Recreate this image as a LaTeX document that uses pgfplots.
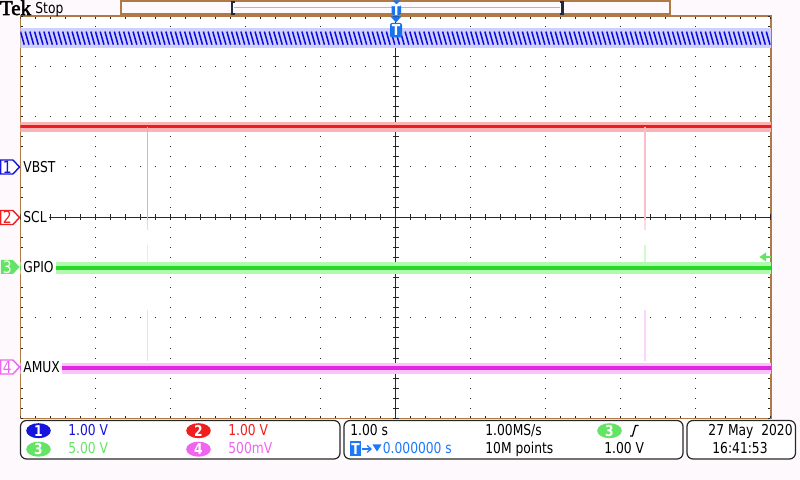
\documentclass[border=0pt]{standalone}
\usepackage{pgfplots}
\pgfplotsset{compat=1.18}
\usetikzlibrary{arrows.meta}
\usepackage{fontspec}
\setmainfont{DejaVu Sans}
\newfontfamily\tekfont[FakeStretch=0.82]{DejaVu Sans}
\newfontfamily\logofont[FakeBold=2.5]{Liberation Serif}
\newcommand\tf{\tekfont\fontsize{7.5}{9}\selectfont}
\definecolor{bgc}{RGB}{253,249,253}
\definecolor{tekbrown}{RGB}{176,122,70}
\definecolor{chone}{RGB}{10,10,225}
\definecolor{chonehalo}{RGB}{208,208,255}
\definecolor{chtwo}{RGB}{235,30,30}
\definecolor{chtwohalo}{RGB}{250,180,180}
\definecolor{chtwospike}{RGB}{250,165,175}
\definecolor{chthree}{RGB}{40,215,40}
\definecolor{chthreehalo}{RGB}{175,250,175}
\definecolor{chthreetxt}{RGB}{100,228,100}
\definecolor{chfour}{RGB}{225,40,225}
\definecolor{chfourhalo}{RGB}{250,195,250}
\definecolor{chfourtxt}{RGB}{240,100,240}
\definecolor{trigblue}{RGB}{25,115,240}
\definecolor{dkline}{RGB}{40,40,40}
\definecolor{navy}{RGB}{35,40,60}
\definecolor{barline}{RGB}{120,225,120}
\definecolor{txtblue}{RGB}{20,20,220}
\definecolor{txtltblue}{RGB}{30,120,250}
\definecolor{txtred}{RGB}{240,30,30}
\begin{document}
\begin{tikzpicture}
\begin{scope}[x=0.5pt,y=-0.5pt]
  \fill[bgc] (0,0) rectangle (800,480);
\end{scope}
\begin{axis}[
  at={(10.25pt,-8pt)}, anchor=north west,
  scale only axis, width=375.25pt, height=201.25pt,
  xmin=-5, xmax=5, ymin=-4, ymax=4,
  axis background/.style={fill=white},
  axis line style={draw=tekbrown, line width=0.8pt},
  xtick={-4,-3,-2,-1,1,2,3,4}, ytick={-3,-2,-1,1,2,3},
  xticklabels={}, yticklabels={},
  major tick length=0pt, tick style={draw=none},
  xmajorgrids, ymajorgrids,
  major x grid style={black!85, line width=0.5pt, dash pattern=on 0.5pt off 4.53125pt, dash phase=0.25pt},
  major y grid style={black!85, line width=0.5pt, dash pattern=on 0.5pt off 7.005pt, dash phase=0.25pt},
  clip=true,
]
% edge ticks
\draw[black!85, line width=1pt, dash pattern=on 0.5pt off 7.005pt, dash phase=0.25pt] (axis cs:-5,3.97) -- (axis cs:5,3.97);
\draw[black!85, line width=1pt, dash pattern=on 0.5pt off 7.005pt, dash phase=0.25pt] (axis cs:-5,-3.97) -- (axis cs:5,-3.97);
\draw[black!85, line width=1pt, dash pattern=on 0.5pt off 4.53125pt, dash phase=0.25pt] (axis cs:-4.98,-4) -- (axis cs:-4.98,4);
\draw[black!85, line width=1pt, dash pattern=on 0.5pt off 4.53125pt, dash phase=0.25pt] (axis cs:4.98,-4) -- (axis cs:4.98,4);
% crosshair
\draw[dkline, line width=0.6pt] (axis cs:-5,0) -- (axis cs:5,0);
\draw[dkline, line width=0.6pt] (axis cs:0,-4) -- (axis cs:0,4);
\draw[dkline, line width=3pt, dash pattern=on 0.5pt off 7.005pt, dash phase=0.25pt] (axis cs:-5,0) -- (axis cs:5,0);
\draw[dkline, line width=3pt, dash pattern=on 0.5pt off 4.53125pt, dash phase=0.25pt] (axis cs:0,-4) -- (axis cs:0,4);
% CH1 VBST ripple
\addplot[chonehalo, line width=10pt] coordinates {(-5,3.56) (5,3.56)};
\addplot[chone, line width=0.75pt, quiver={u=0.05, v=-0.26}] coordinates {
(-5,3.69) (-4.9375,3.69) (-4.875,3.69) (-4.8125,3.69) (-4.75,3.69) (-4.6875,3.69) (-4.625,3.69) (-4.5625,3.69) (-4.5,3.69) (-4.4375,3.69) (-4.375,3.69) (-4.3125,3.69) (-4.25,3.69) (-4.1875,3.69) (-4.125,3.69) (-4.0625,3.69)
(-4,3.69) (-3.9375,3.69) (-3.875,3.69) (-3.8125,3.69) (-3.75,3.69) (-3.6875,3.69) (-3.625,3.69) (-3.5625,3.69) (-3.5,3.69) (-3.4375,3.69) (-3.375,3.69) (-3.3125,3.69) (-3.25,3.69) (-3.1875,3.69) (-3.125,3.69) (-3.0625,3.69)
(-3,3.69) (-2.9375,3.69) (-2.875,3.69) (-2.8125,3.69) (-2.75,3.69) (-2.6875,3.69) (-2.625,3.69) (-2.5625,3.69) (-2.5,3.69) (-2.4375,3.69) (-2.375,3.69) (-2.3125,3.69) (-2.25,3.69) (-2.1875,3.69) (-2.125,3.69) (-2.0625,3.69)
(-2,3.69) (-1.9375,3.69) (-1.875,3.69) (-1.8125,3.69) (-1.75,3.69) (-1.6875,3.69) (-1.625,3.69) (-1.5625,3.69) (-1.5,3.69) (-1.4375,3.69) (-1.375,3.69) (-1.3125,3.69) (-1.25,3.69) (-1.1875,3.69) (-1.125,3.69) (-1.0625,3.69)
(-1,3.69) (-0.9375,3.69) (-0.875,3.69) (-0.8125,3.69) (-0.75,3.69) (-0.6875,3.69) (-0.625,3.69) (-0.5625,3.69) (-0.5,3.69) (-0.4375,3.69) (-0.375,3.69) (-0.3125,3.69) (-0.25,3.69) (-0.1875,3.69) (-0.125,3.69) (-0.0625,3.69)
(0,3.69) (0.0625,3.69) (0.125,3.69) (0.1875,3.69) (0.25,3.69) (0.3125,3.69) (0.375,3.69) (0.4375,3.69) (0.5,3.69) (0.5625,3.69) (0.625,3.69) (0.6875,3.69) (0.75,3.69) (0.8125,3.69) (0.875,3.69) (0.9375,3.69)
(1,3.69) (1.0625,3.69) (1.125,3.69) (1.1875,3.69) (1.25,3.69) (1.3125,3.69) (1.375,3.69) (1.4375,3.69) (1.5,3.69) (1.5625,3.69) (1.625,3.69) (1.6875,3.69) (1.75,3.69) (1.8125,3.69) (1.875,3.69) (1.9375,3.69)
(2,3.69) (2.0625,3.69) (2.125,3.69) (2.1875,3.69) (2.25,3.69) (2.3125,3.69) (2.375,3.69) (2.4375,3.69) (2.5,3.69) (2.5625,3.69) (2.625,3.69) (2.6875,3.69) (2.75,3.69) (2.8125,3.69) (2.875,3.69) (2.9375,3.69)
(3,3.69) (3.0625,3.69) (3.125,3.69) (3.1875,3.69) (3.25,3.69) (3.3125,3.69) (3.375,3.69) (3.4375,3.69) (3.5,3.69) (3.5625,3.69) (3.625,3.69) (3.6875,3.69) (3.75,3.69) (3.8125,3.69) (3.875,3.69) (3.9375,3.69)
(4,3.69) (4.0625,3.69) (4.125,3.69) (4.1875,3.69) (4.25,3.69) (4.3125,3.69) (4.375,3.69) (4.4375,3.69) (4.5,3.69) (4.5625,3.69) (4.625,3.69) (4.6875,3.69) (4.75,3.69) (4.8125,3.69) (4.875,3.69) (4.9375,3.69)
};
% CH2 SCL
\addplot[chtwohalo, line width=5pt] coordinates {(-5,1.80) (5,1.80)};
\addplot[chtwo, line width=1.6pt] coordinates {(-5,1.80) (5,1.80)};
\addplot[chtwospike, line width=0.7pt] coordinates {(-3.31,1.80) (-3.31,-0.05)};
\addplot[chtwospike!50!white, line width=0.7pt] coordinates {(-3.31,-0.05) (-3.31,-0.25)};
\addplot[chtwospike!70!white, line width=0.7pt] coordinates {(3.32,1.80) (3.32,-0.05)};
\addplot[chtwospike!40!white, line width=0.7pt] coordinates {(3.32,-0.05) (3.32,-0.25)};
% CH3 GPIO
\addplot[chthreehalo, line width=6pt] coordinates {(-5,-1.0) (5,-1.0)};
\addplot[chthree, line width=2pt] coordinates {(-5,-1.0) (5,-1.0)};
\addplot[chthreehalo!60!white, line width=0.7pt] coordinates {(-3.31,-0.55) (-3.31,-0.88)};
\addplot[chthreehalo!60!white, line width=0.7pt] coordinates {(3.32,-0.55) (3.32,-0.88)};
% CH4 AMUX
\addplot[chfourhalo, line width=5.5pt] coordinates {(-5,-3.0) (5,-3.0)};
\addplot[chfour, line width=2pt] coordinates {(-5,-3.0) (5,-3.0)};
\addplot[chfourhalo!70!white, line width=0.7pt] coordinates {(-3.31,-1.85) (-3.31,-2.85)};
\addplot[chfourhalo!70!white, line width=0.7pt] coordinates {(3.32,-1.85) (3.32,-2.85)};
\end{axis}
\begin{scope}[x=0.5pt,y=-0.5pt, tk/.style={font=\tf, inner sep=0pt, anchor=base west}]
  % header
  \node[font=\logofont\fontsize{10.5}{11}\selectfont, inner sep=0pt, anchor=base west] at (-0.5,15) {Tek};
  \node[tk] at (35,13.5) {Stop};
  \draw[tekbrown, line width=1pt, fill=bgc] (121,1) rectangle (670,14.5);
  \draw[barline, line width=0.5pt] (234,7.5) -- (560,7.5);
  \draw[navy, line width=1.1pt] (234.5,2) -- (232,2) -- (232,14) -- (234.5,14);
  \draw[navy, line width=1.1pt] (560,2) -- (562.5,2) -- (562.5,14) -- (560,14);
  \fill[trigblue] (392.5,0.5) -- (400.5,0.5) -- (396.5,4.5) -- cycle;
  \fill[trigblue, rounded corners=0.8pt] (391.5,4.5) rectangle (401,15);
  \node[font=\tf\bfseries, text=white, inner sep=0pt] at (396.3,9.8) {T};
  % trigger position marker
  \fill[trigblue] (390.5,16.5) -- (401.5,16.5) -- (396,22.5) -- cycle;
  \fill[trigblue, rounded corners=1pt] (390,23) rectangle (402,37.5);
  \node[font=\tf\bfseries, text=white, inner sep=0pt] at (396,30.3) {T};
  % trigger level arrow
  \fill[chthreetxt] (759.5,257) -- (766,252.5) -- (766,261.5) -- cycle;
  \draw[chthreetxt, line width=0.6pt] (765,257) -- (771,257);
  % channel markers
  \draw[txtblue, line width=0.7pt, fill=white] (0.8,160) -- (13,160) -- (19.5,167) -- (13,174) -- (0.8,174) -- cycle;
  \node[font=\tekfont\fontsize{8.5}{9}\selectfont, text=txtblue, inner sep=0pt] at (7.3,167) {1};
  \draw[txtred, line width=0.7pt, fill=white] (0.8,210.5) -- (13,210.5) -- (19.5,217.5) -- (13,224.5) -- (0.8,224.5) -- cycle;
  \node[font=\tekfont\fontsize{8.5}{9}\selectfont, text=txtred, inner sep=0pt] at (7.3,217.5) {2};
  \fill[chthreetxt] (0.8,260) -- (13,260) -- (19.5,267) -- (13,274) -- (0.8,274) -- cycle;
  \node[font=\tekfont\fontsize{8.5}{9}\selectfont, text=white, inner sep=0pt] at (7.3,267) {3};
  \draw[chfourtxt, line width=0.7pt, fill=white] (0.8,360) -- (13,360) -- (19.5,367) -- (13,374) -- (0.8,374) -- cycle;
  \node[font=\tekfont\fontsize{8.5}{9}\selectfont, text=chfourtxt, inner sep=0pt] at (7.3,367) {4};
  % channel labels
  \node[font=\tf, inner xsep=1pt, inner ysep=2.5pt, fill=white, anchor=west] at (21,167) {VBST};
  \node[font=\tf, inner xsep=1pt, inner ysep=2.5pt, fill=white, anchor=west] at (21,217.5) {SCL};
  \node[font=\tf, inner xsep=1pt, inner ysep=3pt, fill=white, anchor=west] at (21,267.5) {GPIO};
  \node[font=\tf, inner xsep=1pt, inner ysep=3pt, fill=white, anchor=west] at (21,367.5) {AMUX};
  % bottom boxes
  \draw[dkline, line width=0.6pt, fill=white, rounded corners=3pt] (20.5,420.5) rectangle (340,459);
  \draw[dkline, line width=0.6pt, fill=white, rounded corners=3pt] (344,420.5) rectangle (683,459);
  \draw[dkline, line width=0.6pt, fill=white, rounded corners=3pt] (687,420.5) rectangle (795.5,459);
  % box 1
  \fill[txtblue] (38.5,430.7) ellipse [x radius=12.3, y radius=7.5];
  \node[font=\tf\bfseries, text=white, inner sep=0pt] at (38.5,430.7) {1};
  \node[tk, text=txtblue] at (68,435.7) {1.00 V};
  \fill[txtred] (198.5,430.7) ellipse [x radius=12.3, y radius=7.5];
  \node[font=\tf\bfseries, text=white, inner sep=0pt] at (198.5,430.7) {2};
  \node[tk, text=txtred] at (228,435.7) {1.00 V};
  \fill[chthreetxt] (38.5,449.2) ellipse [x radius=12.3, y radius=7.5];
  \node[font=\tf\bfseries, text=white, inner sep=0pt] at (38.5,449.2) {3};
  \node[tk, text=chthreetxt] at (68,454) {5.00 V};
  \fill[chfourtxt] (198.5,449.2) ellipse [x radius=12.3, y radius=7.5];
  \node[font=\tf\bfseries, text=white, inner sep=0pt] at (198.5,449.2) {4};
  \node[tk, text=chfourtxt] at (228,454) {500mV};
  % box 2
  \node[tk] at (350,435.7) {1.00 s};
  \node[tk] at (485,435.7) {1.00MS/s};
  \fill[chthreetxt] (609.5,430.7) ellipse [x radius=12.3, y radius=7.5];
  \node[font=\tf\bfseries, text=white, inner sep=0pt] at (609.5,430.7) {3};
  \draw[black, line width=0.6pt] (630,436) -- (632.5,436) -- (635.5,425.5) -- (638.5,425.5);
  \fill[txtltblue] (350,441.5) rectangle (361,456.5);
  \node[font=\tf\bfseries, text=white, inner sep=0pt] at (355.5,449) {T};
  \draw[txtltblue, line width=0.6pt, -{Straight Barb[length=2pt,width=3.5pt]}] (362,449) -- (372,449);
  \fill[txtltblue] (372.5,444.5) -- (381.5,444.5) -- (377,451.5) -- cycle;
  \node[tk, text=txtltblue] at (382.5,454) {0.000000 s};
  \node[tk] at (485,454) {10M points};
  \node[tk] at (604,454) {1.00 V};
  % box 3
  \node[tk, anchor=base east] at (793,435.7) {27 May\ \ 2020};
  \node[tk] at (712,454) {16:41:53};
\end{scope}
\pgfresetboundingbox
\useasboundingbox (0pt,0pt) rectangle (400pt,-240pt);
\end{tikzpicture}
\end{document}
